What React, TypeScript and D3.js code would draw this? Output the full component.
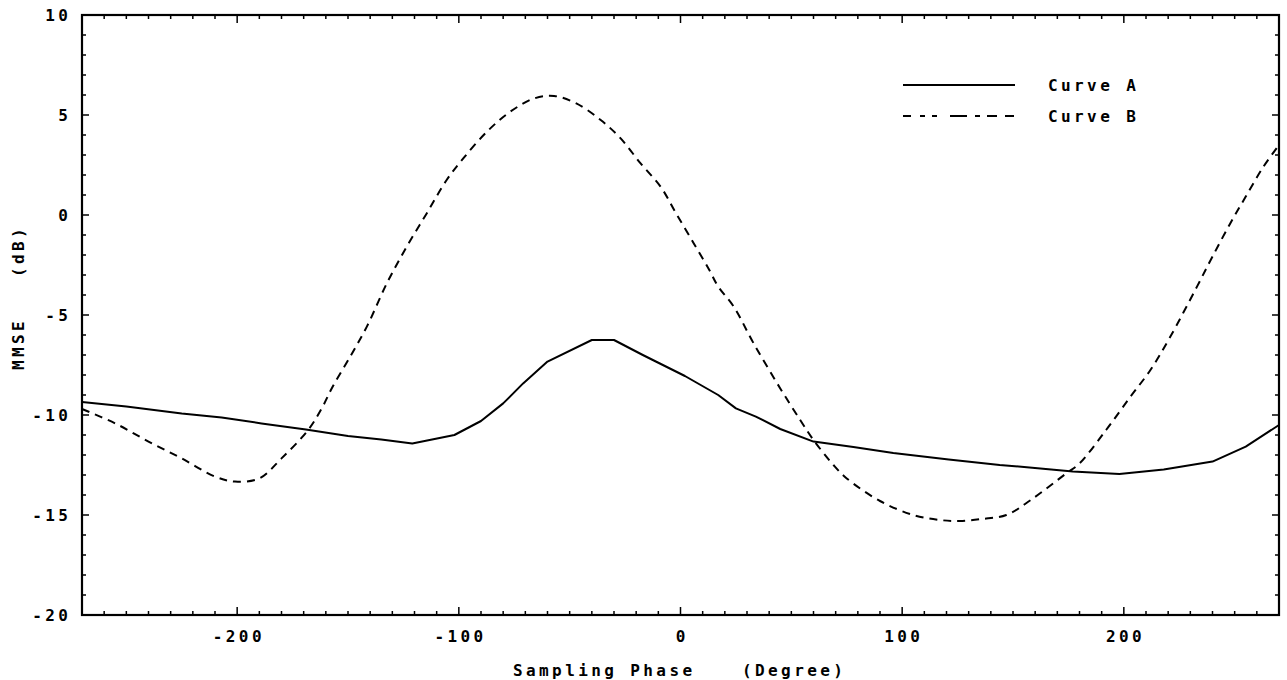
import React from "react";
import * as d3 from "d3";

const phaseA = [-270, -250, -225, -207, -189, -169, -150, -135, -121, -102, -90, -80, -71, -60, -40, -30, -17, 2, 17, 25, 34, 45, 60, 78, 96, 121, 144, 155, 177, 198, 218, 240, 255, 270];
const mmseA = [-9.35, -9.58, -9.92, -10.12, -10.42, -10.72, -11.05, -11.22, -11.42, -11.0, -10.3, -9.42, -8.42, -7.33, -6.25, -6.25, -7.0, -8.05, -9.0, -9.67, -10.08, -10.7, -11.33, -11.6, -11.9, -12.22, -12.5, -12.6, -12.83, -12.95, -12.72, -12.33, -11.58, -10.5];

const phaseB = [-270, -255, -240, -225, -210, -201, -190, -180, -168, -162, -157, -149, -141.5, -132.5, -123.5, -114.5, -105.5, -98, -87, -77, -66, -57, -47, -36, -27, -18, -9, -2, 6, 13, 17, 24, 33, 45, 54, 60, 69, 75, 90, 105, 117, 126, 136, 147, 158, 174, 180, 192, 203, 212, 221, 233, 240, 248, 255, 263, 270];
const mmseB = [-9.7, -10.42, -11.33, -12.17, -13.08, -13.33, -13.17, -12.17, -10.75, -9.7, -8.6, -7.08, -5.58, -3.42, -1.58, 0.08, 1.75, 2.83, 4.2, 5.15, 5.83, 5.95, 5.58, 4.75, 3.83, 2.58, 1.42, 0.08, -1.42, -2.75, -3.58, -4.58, -6.42, -8.67, -10.25, -11.25, -12.5, -13.17, -14.3, -15.0, -15.25, -15.3, -15.2, -15.0, -14.25, -12.92, -12.42, -10.75, -9.08, -7.75, -6.08, -3.58, -2.08, -0.42, 0.92, 2.42, 3.5];

const xTicks = [-200, -100, 0, 100, 200];
const yTicks = [10, 5, 0, -5, -10, -15, -20];
const legendLabels = ["Curve A", "Curve B"];

const W = 1287;
const H = 680;
const left = 82, right = 1279, top = 15, bottom = 615;
const FONT = "'DejaVu Sans Mono', monospace";
const FS = 16;
const LS = 3.4;

export default function App() {
  const x = d3.scaleLinear().domain([-270, 270]).range([left, right]);
  const y = d3.scaleLinear().domain([-20, 10]).range([bottom, top]);

  const lineA = d3
    .line<[number, number]>()
    .x((d) => x(d[0]))
    .y((d) => y(d[1]))
    .curve(d3.curveLinear);
  const lineB = d3
    .line<[number, number]>()
    .x((d) => x(d[0]))
    .y((d) => y(d[1]))
    .curve(d3.curveCatmullRom.alpha(0.5));

  const dataA: [number, number][] = phaseA.map((p, i) => [p, mmseA[i]]);
  const dataB: [number, number][] = phaseB.map((p, i) => [p, mmseB[i]]);

  const minorX = d3.range(-270, 271, 10);
  const minorY = d3.range(-20, 11, 1);

  const textStyle: React.CSSProperties = {
    fontFamily: FONT,
    fontSize: FS,
    fontWeight: "bold",
    letterSpacing: `${LS}px`,
  };

  return (
    <svg
      width={W}
      height={H}
      style={{ position: "absolute", left: 0, top: 0, background: "#fff" }}
    >
      <rect x={0} y={0} width={W} height={H} fill="#fff" />
      <g stroke="#000" strokeWidth={1.5}>
        {minorX.map((v) => {
          const major = v % 100 === 0;
          const len = major ? 8 : 4;
          return (
            <g key={"xt" + v}>
              <line x1={x(v)} x2={x(v)} y1={bottom} y2={bottom - len} />
              <line x1={x(v)} x2={x(v)} y1={top} y2={top + len} />
            </g>
          );
        })}
        {minorY.map((v) => {
          const major = v % 5 === 0;
          const len = major ? 7 : 4;
          return (
            <g key={"yt" + v}>
              <line x1={left} x2={left + len} y1={y(v)} y2={y(v)} />
              <line x1={right} x2={right - len} y1={y(v)} y2={y(v)} />
            </g>
          );
        })}
      </g>
      <rect
        x={left}
        y={top}
        width={right - left}
        height={bottom - top}
        fill="none"
        stroke="#000"
        strokeWidth={2.2}
      />
      <path d={lineA(dataA) || ""} fill="none" stroke="#000" strokeWidth={2} strokeLinejoin="round" />
      <path
        d={lineB(dataB) || ""}
        fill="none"
        stroke="#000"
        strokeWidth={2}
        strokeDasharray="8,6"
      />
      {xTicks.map((v) => (
        <text
          key={"xl" + v}
          x={x(v) + LS / 2}
          y={642}
          textAnchor="middle"
          style={textStyle}
          fill="#000"
        >
          {v}
        </text>
      ))}
      {yTicks.map((v) => (
        <text
          key={"yl" + v}
          x={68 + LS}
          y={y(v) + 6}
          textAnchor="end"
          style={textStyle}
          fill="#000"
        >
          {v}
        </text>
      ))}
      <text x={513} y={676} style={textStyle} fill="#000">
        Sampling Phase
      </text>
      <text x={742} y={676} style={textStyle} fill="#000">
        (Degree)
      </text>
      <text
        transform="translate(24,370) rotate(-90)"
        style={textStyle}
        fill="#000"
      >
        MMSE
      </text>
      <text
        transform="translate(24,277) rotate(-90)"
        style={textStyle}
        fill="#000"
      >
        (dB)
      </text>
      <line x1={903} x2={1015} y1={85} y2={85} stroke="#000" strokeWidth={2} />
      <line
        x1={903}
        x2={1015}
        y1={116}
        y2={116}
        stroke="#000"
        strokeWidth={2}
        strokeDasharray="8,9,5,7,5,13,17,8,5,7,10"
      />
      <text x={1048} y={91} style={textStyle} fill="#000">
        {legendLabels[0]}
      </text>
      <text x={1048} y={122} style={textStyle} fill="#000">
        {legendLabels[1]}
      </text>
    </svg>
  );
}
